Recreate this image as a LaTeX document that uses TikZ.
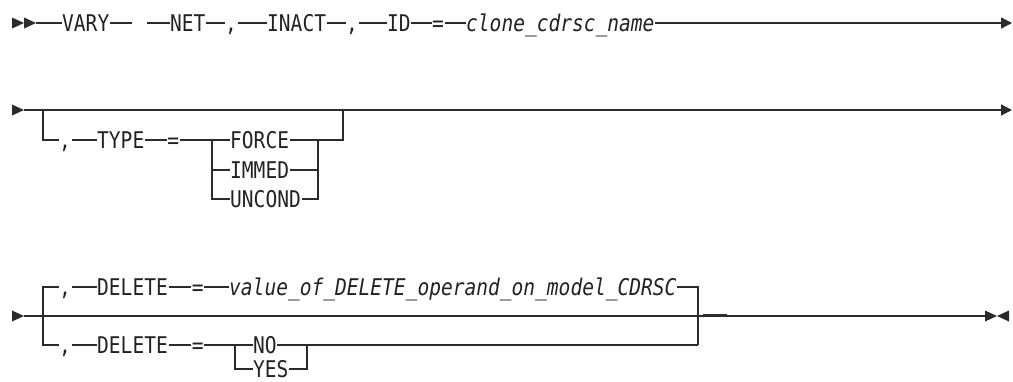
\documentclass[tikz,border=0pt]{standalone}
\usepackage{fontspec}
\newfontfamily\synfont[FakeStretch=0.85]{DejaVu Sans Mono}
\usetikzlibrary{arrows.meta}
\definecolor{lnc}{HTML}{2B2B2B}
\definecolor{txt}{HTML}{222222}
\begin{document}
\begin{tikzpicture}[x=1pt,y=-1pt,
  kw/.style={font={\synfont\fontsize{23}{26}\selectfont}, text=txt, inner xsep=0.5pt, inner ysep=0pt, text height=16.8pt, text depth=0pt, anchor=west},
  var/.style={kw, font={\synfont\itshape\fontsize{23}{26}\selectfont}},
  ln/.style={draw=lnc, line width=1.3pt},
  cont/.style={ln, -{Triangle[length=11pt,width=11pt]}},
  mk/.style={fill=lnc}]
\useasboundingbox (0,0) rectangle (1013,381);

% ---------- Row 1 ----------
\fill[mk] (12,17.5) -- (24,23) -- (12,28.5) -- cycle;
\fill[mk] (24,17.5) -- (36,23) -- (24,28.5) -- cycle;
\coordinate (s1) at (36,23);
\node[kw] (vary) at (61.5,23) {VARY};
\coordinate (g1) at (132,23);
\coordinate (g2) at (147,23);
\node[kw] (net) at (169.5,23) {NET};
\node[kw] (c1) at (224.5,23) {,};
\node[kw] (inact) at (266.5,23) {INACT};
\node[kw] (c2) at (345.5,23) {,};
\node[kw] (id) at (386.5,23) {ID};
\node[kw] (eq1) at (431.5,23) {=};
\node[var] (clone) at (465.5,23) {clone\_cdrsc\_name};
\coordinate (e1) at (1012,23);
\draw[ln] (s1) -- (vary.west);
\draw[ln] (vary.east) -- (g1);
\draw[ln] (g2) -- (net.west);
\draw[ln] (net.east) -- (c1.west);
\draw[ln] (c1.east) -- (inact.west);
\draw[ln] (inact.east) -- (c2.west);
\draw[ln] (c2.east) -- (id.west);
\draw[ln] (id.east) -- (eq1.west);
\draw[ln] (eq1.east) -- (clone.west);
\draw[cont] (clone.east) -- (e1);

% ---------- Row 2 ----------
\fill[mk] (12,104.5) -- (24,110) -- (12,115.5) -- cycle;
\coordinate (s2) at (24,110);
\coordinate (e2) at (1012,110);
\draw[cont] (s2) -- (e2);
\coordinate (b2) at (43,110);
\coordinate (b2e) at (343,110);
\coordinate (tL) at (212,140);
\coordinate (tR) at (318,140);
\coordinate (tE) at (343,140);
\node[kw] (c3) at (58.5,140) {,};
\node[kw] (type) at (96.5,140) {TYPE};
\node[kw] (eq2) at (166.7,140) {=};
\node[kw] (force) at (229.5,140) {FORCE};
\node[kw] (immed) at (229.5,170) {IMMED};
\node[kw] (uncond) at (229.5,199) {UNCOND};
\draw[ln] (b2) |- (c3.west);
\draw[ln] (c3.east) -- (type.west);
\draw[ln] (type.east) -- (eq2.west);
\draw[ln] (eq2.east) -- (force.west);
\draw[ln] (tL) |- (immed.west);
\draw[ln] (tL) |- (uncond.west);
\draw[ln] (immed.east) -| (tR);
\draw[ln] (uncond.east) -| (tR);
\draw[ln] (force.east) -- (tE) -- (b2e);

% ---------- Row 3 ----------
\fill[mk] (12,310.5) -- (24,316) -- (12,321.5) -- cycle;
\coordinate (s3) at (24,316);
\coordinate (e3) at (985,316);
\draw[ln] (s3) -- (e3);
\fill[mk] (985,310.5) -- (997,316) -- (985,321.5) -- cycle;
\fill[mk] (1009,310.5) -- (997,316) -- (1009,321.5) -- cycle;
\coordinate (b3) at (43,316);
% upper choice
\node[kw] (c4) at (58.5,287) {,};
\node[kw] (del1) at (96.5,287) {DELETE};
\node[kw] (eq3) at (191.2,287) {=};
\node[var] (value) at (228.5,287) {value\_of\_DELETE\_operand\_on\_model\_CDRSC};
% lower choice
\node[kw] (c5) at (58.5,345) {,};
\node[kw] (del2) at (96.5,345) {DELETE};
\node[kw] (eq4) at (191.2,345) {=};
\node[kw] (no) at (252.5,345) {NO};
\node[kw] (yes) at (252.5,369) {YES};
\coordinate (dL) at (235,345);
\coordinate (dR) at (307,345);
\coordinate (dE) at (698,345);
\draw[ln] (b3) |- (c4.west);
\draw[ln] (c4.east) -- (del1.west);
\draw[ln] (del1.east) -- (eq3.west);
\draw[ln] (eq3.east) -- (value.west);
\draw[ln] (value.east) -| (dE);
\draw[ln] (b3) |- (c5.west);
\draw[ln] (c5.east) -- (del2.west);
\draw[ln] (del2.east) -- (eq4.west);
\draw[ln] (eq4.east) -- (no.west);
\draw[ln] (dL) |- (yes.west);
\draw[ln] (no.east) -- (dR);
\draw[ln] (yes.east) -| (dR);
\draw[ln] (dR) -- (dE);
\draw[draw=lnc, line width=2pt] (703,315.2) -- (727,315.2);
\end{tikzpicture}
\end{document}
